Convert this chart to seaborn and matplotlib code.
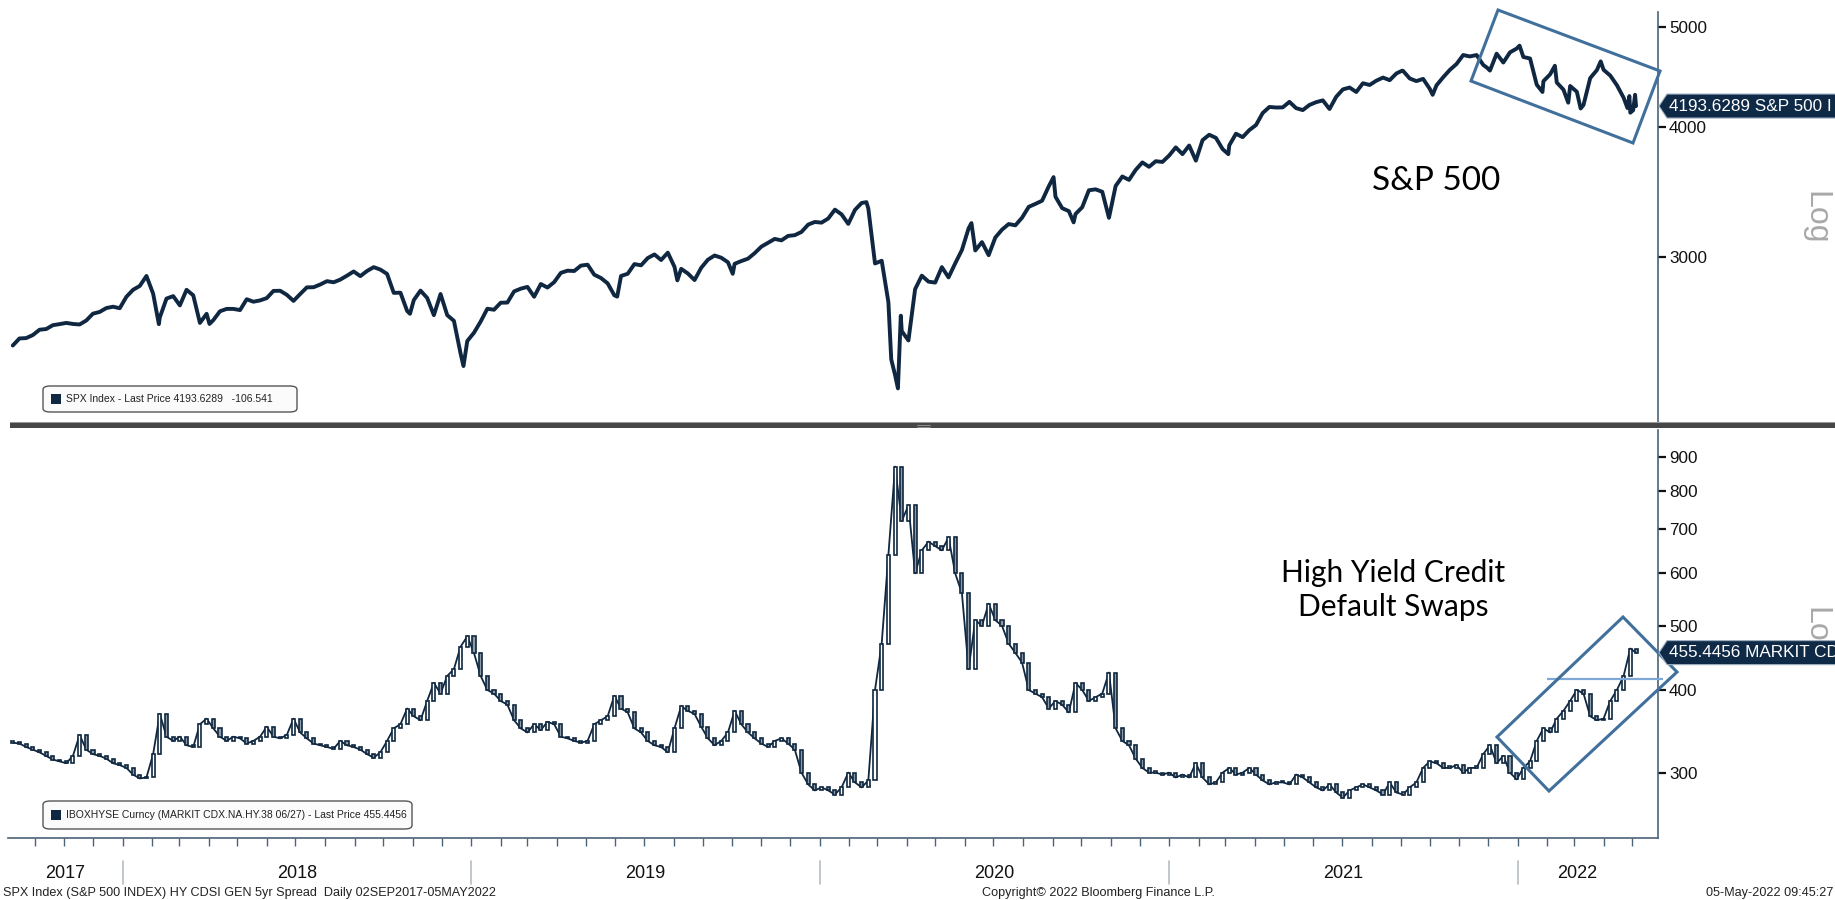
import numpy as np
import pandas as pd
import matplotlib
matplotlib.use("Agg")
import matplotlib.pyplot as plt
import matplotlib.dates as mdates
import matplotlib.transforms as mtransforms
from matplotlib.patches import Polygon, FancyBboxPatch, Rectangle
from matplotlib.lines import Line2D
from matplotlib.ticker import FixedLocator, NullLocator, FuncFormatter
import seaborn as sns

# ---------------- DATA ----------------
# S&P 500 weekly closes (Fridays) 2017-09-08 .. 2022-04-29
spx_2017 = [2461, 2500, 2502, 2519, 2549, 2553, 2575, 2581, 2588, 2582, 2579, 2602,
            2642, 2652, 2675, 2683, 2674]
spx_2018 = [2743, 2786, 2810, 2873, 2762, 2620, 2732, 2747, 2691, 2786, 2752, 2588, 2641,
            2604, 2656, 2670, 2670, 2663, 2728, 2713, 2721, 2735, 2779, 2780, 2755, 2718,
            2760, 2801, 2802, 2819, 2840, 2833, 2850, 2875, 2902, 2872, 2905, 2930, 2914,
            2886, 2767, 2768, 2658, 2723, 2781, 2736, 2633, 2760, 2633, 2600, 2417, 2486]
spx_2019 = [2532, 2596, 2671, 2665, 2707, 2708, 2776, 2793, 2804, 2743, 2822, 2800, 2834,
            2893, 2907, 2905, 2940, 2946, 2881, 2860, 2826, 2752, 2873, 2887, 2950, 2942,
            2990, 3014, 2977, 3026, 2932, 2919, 2889, 2847, 2926, 2979, 3007, 2992, 2962,
            2952, 2970, 2986, 3023, 3067, 3093, 3120, 3110, 3141, 3146, 3169, 3221, 3240]
spx_2020 = [3235, 3265, 3330, 3295, 3226, 3328, 3380, 3338, 2954, 2972, 2711, 2305, 2541,
            2489, 2790, 2875, 2837, 2831, 2930, 2864, 2955, 3044, 3194, 3041, 3098, 3009,
            3130, 3185, 3225, 3216, 3271, 3351, 3373, 3397, 3508, 3427, 3341, 3319, 3298,
            3348, 3477, 3484, 3465, 3270, 3510, 3585, 3558, 3638, 3699, 3663, 3709, 3703,
            3756]
spx_2021 = [3825, 3768, 3841, 3714, 3887, 3934, 3907, 3811, 3842, 3943, 3913, 3975,
            4020, 4129, 4185, 4180, 4181, 4233, 4174, 4156, 4204, 4230, 4247, 4166, 4281,
            4352, 4370, 4327, 4412, 4395, 4437, 4468, 4442, 4509, 4535, 4459, 4433, 4455,
            4357, 4391, 4471, 4545, 4605, 4698, 4683, 4698, 4595, 4538, 4712, 4620, 4726,
            4766]
spx_2022 = [4677, 4662, 4398, 4432, 4500, 4419, 4349, 4385, 4329, 4204, 4463, 4543,
            4546, 4488, 4392, 4272, 4132]
# S&P 500 daily closes at turning points
spx_extra_dates = ["2018-02-08", "2018-04-02", "2018-10-29", "2018-12-24", "2019-06-03",
                   "2019-08-05", "2019-10-02", "2020-02-19", "2020-03-16", "2020-03-23",
                   "2020-03-26", "2020-06-08", "2020-09-02", "2020-09-23", "2021-01-27",
                   "2021-03-04", "2021-09-02", "2021-10-04", "2021-11-30", "2022-01-03",
                   "2022-01-27", "2022-02-09", "2022-02-23", "2022-03-08", "2022-03-29",
                   "2022-04-26", "2022-04-28", "2022-05-02", "2022-05-04", "2022-05-05"]
spx_extra_vals = [2581, 2582, 2641, 2351, 2744, 2845, 2887, 3386, 2386, 2237, 2630, 3232,
                  3580, 3237, 3750, 3768, 4537, 4300, 4567, 4797, 4327, 4587, 4225, 4171,
                  4632, 4175, 4288, 4155, 4300, 4193.6289]

# Markit CDX NA HY generic 5y spread, weekly closes (bp) 2017-09-08 .. 2022-04-29
cdx_2017 = [333, 332, 328, 325, 322, 318, 314, 312, 310, 318, 342, 325, 320, 318, 315, 310, 308]
cdx_2018 = [305, 298, 294, 295, 320, 368, 340, 335, 340, 330, 328, 355, 362, 350, 340, 335,
            340, 338, 332, 335, 340, 352, 340, 338, 342, 362, 345, 338, 332, 330, 328, 326,
            335, 330, 328, 325, 320, 316, 322, 335, 350, 355, 375, 365, 360, 385, 410, 395,
            420, 430, 465, 482]
cdx_2019 = [455, 420, 400, 395, 385, 380, 360, 350, 345, 355, 348, 358, 355, 340, 338, 335,
            333, 335, 355, 360, 365, 392, 375, 370, 350, 345, 335, 330, 328, 322, 350, 378,
            372, 368, 352, 338, 330, 335, 345, 372, 355, 345, 338, 332, 328, 335, 338, 332,
            325, 300, 288, 282]
cdx_2020 = [285, 282, 278, 285, 300, 290, 285, 292, 400, 470, 640, 870, 720, 760, 600, 650,
            670, 660, 650, 680, 600, 560, 430, 510, 500, 540, 510, 500, 470, 455, 440, 400,
            395, 390, 375, 385, 380, 370, 410, 400, 385, 390, 395, 425, 350, 335, 330, 315,
            305, 300, 300, 298, 300]
cdx_2021 = [295, 298, 295, 310, 295, 288, 290, 300, 305, 298, 300, 305, 298, 292, 288, 290,
            290, 288, 298, 295, 290, 285, 282, 288, 280, 275, 282, 285, 288, 285, 282, 278,
            290, 280, 278, 285, 290, 305, 312, 310, 305, 305, 308, 300, 305, 305, 320, 330,
            310, 318, 300, 293]
cdx_2022 = [305, 312, 335, 350, 345, 362, 372, 385, 400, 395, 365, 360, 362, 385, 400, 420, 462]
cdx_last_date = "2022-05-05"
cdx_last_val = 455.4456

spx_ticks = [3000, 4000, 5000]
cdx_ticks = [300, 400, 500, 600, 700, 800, 900]
years = [2017, 2018, 2019, 2020, 2021, 2022]

# ---------------- FRAMES ----------------
spx_weekly = spx_2017 + spx_2018 + spx_2019 + spx_2020 + spx_2021 + spx_2022
spx_dates = list(pd.date_range("2017-09-08", periods=len(spx_weekly), freq="W-FRI"))
spx = pd.DataFrame({"date": spx_dates + list(pd.to_datetime(spx_extra_dates)),
                    "value": spx_weekly + spx_extra_vals}).sort_values("date").reset_index(drop=True)

cdx_weekly = cdx_2017 + cdx_2018 + cdx_2019 + cdx_2020 + cdx_2021 + cdx_2022
cdx_dates = list(pd.date_range("2017-09-08", periods=len(cdx_weekly), freq="W-FRI"))
cdx = pd.DataFrame({"date": cdx_dates + [pd.Timestamp(cdx_last_date)],
                    "close": cdx_weekly + [cdx_last_val]})
cdx["open"] = cdx["close"].shift(1).fillna(cdx["close"])

# ---------------- STYLE ----------------
W, H = 1835, 900
NAVY = "#0f2740"
SPINE = "#4d6378"
sns.set_theme(style="white")
plt.rcParams["font.family"] = ["Liberation Sans", "DejaVu Sans"]

fig = plt.figure(figsize=(W / 100, H / 100), dpi=100)
fig.patch.set_facecolor("white")


def fx(x):
    return x / W


def fy(y):
    return 1 - y / H


ax1 = fig.add_axes([fx(8), fy(425), (1658 - 8) / W, (425 - 12) / H])
ax2 = fig.add_axes([fx(8), fy(838), (1658 - 8) / W, (838 - 430) / H], sharex=ax1)

# ---- top: S&P 500 line ----
sns.lineplot(data=spx, x="date", y="value", ax=ax1, color=NAVY, lw=2.8, legend=False)
ax1.set_yscale("log")
ax1.set_ylim(2062, 5170)

# ---- bottom: candles (open = previous close) ----
sns.lineplot(data=cdx, x="date", y="close", ax=ax2, color=NAVY, lw=1.3, legend=False,
             zorder=2)
lo = np.minimum(cdx["open"], cdx["close"])
hi = np.maximum(cdx["open"], cdx["close"])
hgt = np.maximum(hi - lo, 1.5)
fc = np.where(cdx["close"] >= cdx["open"], "#ffffff", "#8e9aa8")
ax2.bar(cdx["date"], hgt, bottom=lo, width=3.2, color=fc, edgecolor=NAVY, linewidth=1.2,
        zorder=3)
ax2.set_yscale("log")
ax2.set_ylim(239, 988)

x0, x1 = pd.Timestamp("2017-09-03"), pd.Timestamp("2022-05-28")
ax1.set_xlim(x0, x1)

for ax, ticks in ((ax1, spx_ticks), (ax2, cdx_ticks)):
    ax.set_xlabel("")
    ax.set_ylabel("")
    ax.yaxis.tick_right()
    ax.yaxis.set_major_locator(FixedLocator(ticks))
    ax.yaxis.set_minor_locator(NullLocator())
    ax.yaxis.set_major_formatter(FuncFormatter(lambda v, p: f"{int(v)}"))
    ax.tick_params(axis="y", which="major", right=True, left=False, direction="out",
                   length=6, width=1.6, color="#111111", labelsize=12.3, pad=2,
                   labelcolor="#111111")
    for s in ("left", "top"):
        ax.spines[s].set_visible(False)
    ax.spines["right"].set_color(SPINE)
    ax.spines["right"].set_linewidth(1.2)
    ax.grid(False)
    ax.set_facecolor("white")

ax1.spines["bottom"].set_visible(False)
ax1.tick_params(axis="x", which="both", bottom=False, labelbottom=False)
ax2.spines["bottom"].set_color(SPINE)
ax2.spines["bottom"].set_linewidth(1.2)
ax2.xaxis.set_major_locator(mdates.MonthLocator())
ax2.xaxis.set_minor_locator(NullLocator())
ax2.tick_params(axis="x", which="major", bottom=True, direction="out", length=6, width=1,
                color=SPINE, labelbottom=False)

# ---- separator bar between panels ----
fig.add_artist(Rectangle((fx(10), fy(428)), 1 - fx(10), 5 / H, transform=fig.transFigure,
                         facecolor="#474747", edgecolor="none", zorder=5))
fig.add_artist(Rectangle((fx(10), fy(423)), 1 - fx(10), 1 / H, transform=fig.transFigure,
                         facecolor="#9a9a9a", edgecolor="none", zorder=5))
for dy in (424.5, 426.5):
    fig.add_artist(Line2D([fx(917), fx(930)], [fy(dy), fy(dy)], transform=fig.transFigure,
                          color="#9a9a9a", lw=0.6, zorder=6))

# ---- year labels and separators ----
bt = mtransforms.blended_transform_factory(ax2.transData, fig.transFigure)
data_start, data_end = spx["date"].min(), spx["date"].max()
for yr in years:
    a = max(pd.Timestamp(f"{yr}-01-01"), data_start - pd.Timedelta(days=5))
    b = min(pd.Timestamp(f"{yr + 1}-01-01"), data_end)
    mid = a + (b - a) / 2
    fig.text(mdates.date2num(mid), fy(873), str(yr), transform=bt, ha="center",
             va="center", fontsize=13, color="#111111")
    if yr > years[0]:
        d = mdates.date2num(pd.Timestamp(f"{yr}-01-01"))
        fig.add_artist(Line2D([d, d], [fy(861), fy(884)], transform=bt, color="#b4bcc4",
                              lw=1.2))

# ---- footer ----
fig.text(fx(3), fy(893), "SPX Index (S&P 500 INDEX) HY CDSI GEN 5yr Spread  Daily 02SEP2017-05MAY2022",
         ha="left", va="center", fontsize=9.1, color="#222222")
fig.text(fx(1099), fy(893), "Copyright\u00a9 2022 Bloomberg Finance L.P.", ha="center",
         va="center", fontsize=9.1, color="#222222")
fig.text(fx(1833), fy(893), "05-May-2022 09:45:27", ha="right", va="center", fontsize=9.1,
         color="#222222")


# ---- legend boxes ----
def legend_box(x0p, y0p, x1p, y1p, text):
    fig.add_artist(FancyBboxPatch((fx(x0p), fy(y1p)), (x1p - x0p) / W, (y1p - y0p) / H,
                                  boxstyle="round,pad=0,rounding_size=0.004",
                                  transform=fig.transFigure, facecolor="#fbfbfb",
                                  edgecolor="#555555", lw=1.0, zorder=6))
    yc = (y0p + y1p) / 2
    fig.add_artist(Rectangle((fx(51), fy(yc + 5)), 10 / W, 10 / H, transform=fig.transFigure,
                             facecolor=NAVY, edgecolor="none", zorder=7))
    fig.text(fx(66), fy(yc), text, ha="left", va="center", fontsize=7.5, color="#222222",
             zorder=8)


legend_box(43, 386, 297, 412, "SPX Index - Last Price 4193.6289   -106.541")
legend_box(43, 801, 412, 829, "IBOXHYSE Curncy (MARKIT CDX.NA.HY.38 06/27) - Last Price 455.4456")

# ---- Log labels ----
fig.text(fx(1815), fy(218), "Log", rotation=270, ha="center", va="center", fontsize=23,
         color="#a8a8a8")
fig.text(fx(1815), fy(634), "Log", rotation=270, ha="center", va="center", fontsize=23,
         color="#a8a8a8")

# ---- last price tags ----
fig.canvas.draw()


def price_tag(ax, value, text):
    yd = ax.transData.transform((0, value))[1]
    yc = H - yd
    pts = [(1659, yc), (1667, yc - 12), (W + 2, yc - 12), (W + 2, yc + 12), (1667, yc + 12)]
    fig.add_artist(Polygon([(fx(x), fy(y)) for x, y in pts], closed=True,
                           transform=fig.transFigure, facecolor="#0e2a47",
                           edgecolor="#9fb0c0", lw=0.8, zorder=9))
    fig.text(fx(1669), fy(yc), text, ha="left", va="center", fontsize=12.3, color="white",
             zorder=10)


price_tag(ax1, spx_extra_vals[-1], "4193.6289 S&P 500 I")
price_tag(ax2, cdx_last_val, "455.4456 MARKIT CD")

# ---- annotations ----
fig.text(fx(1436), fy(181), "S&P 500", ha="center", va="center", fontsize=24,
         family=["Lato", "DejaVu Sans"], color="black")
fig.text(fx(1393), fy(590), "High Yield Credit\nDefault Swaps", ha="center", va="center",
         fontsize=21.5, family=["Lato", "DejaVu Sans"], color="black", linespacing=1.25)

BOX = "#41709c"
rect_top = [(1498, 10), (1660, 71), (1633, 143), (1471, 81)]
rect_bot = [(1623, 617), (1677, 672), (1549, 791), (1497, 737)]
for poly in (rect_top, rect_bot):
    fig.add_artist(Polygon([(fx(x), fy(y)) for x, y in poly], closed=True, fill=False,
                           transform=fig.transFigure, edgecolor=BOX, lw=2.2, zorder=8))
ax2.hlines(415, pd.Timestamp("2022-02-01"), pd.Timestamp("2022-06-02"), color="#7fa8d6",
           lw=1.6, clip_on=False, zorder=4)

fig.savefig("out.png", dpi=100, facecolor="white")
